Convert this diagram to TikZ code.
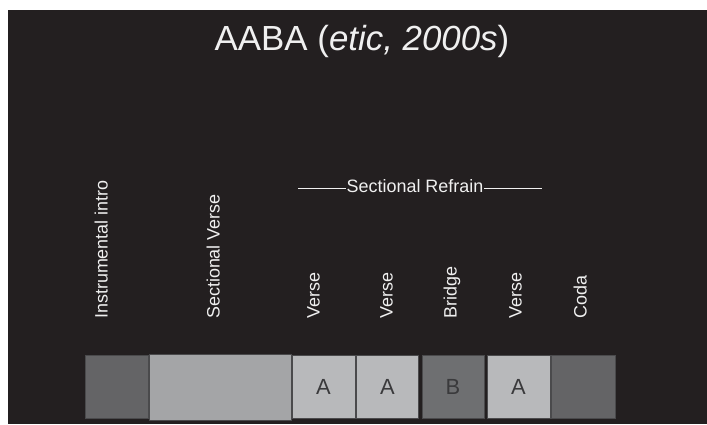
\documentclass[tikz,border=0pt]{standalone}
\usepackage{xcolor}
\usepackage{fontspec}
\setmainfont{Liberation Sans}
\usepackage{tikz}
\usetikzlibrary{positioning}

\definecolor{bgdark}{HTML}{231F20}
\definecolor{introgray}{HTML}{646466}
\definecolor{versegray}{HTML}{A4A5A7}
\definecolor{agray}{HTML}{B8B9BB}
\definecolor{bgray}{HTML}{6E6F71}
\definecolor{edgegray}{HTML}{4A4A4C}
\definecolor{lettergray}{HTML}{3A3A3C}

\begin{document}
\begin{tikzpicture}[
    x=1bp, y=-1bp,
    every node/.style={text=white!94!black},
    sectbox/.style={draw=edgegray, line width=0.8bp, minimum height=63.5bp,
        inner sep=0pt, text=lettergray, font=\fontsize{22}{24}\selectfont},
    vlabel/.style={rotate=90, anchor=west, inner sep=0pt,
        text height=0.716em, text depth=0pt, font=\fontsize{18}{20}\selectfont},
    rule/.style={draw=white!94!black, line width=1.1bp}
]
\useasboundingbox (0,0) rectangle (707,424);
\fill[white] (0,0) rectangle (707,424);
\fill[bgdark] (8,10) rectangle (707,424);

% Title
\node[anchor=base, font=\fontsize{35}{40}\selectfont] (title) at (362,50)
    {AABA (\textit{etic, 2000s})};

% Boxes
\node[sectbox, fill=introgray, minimum width=63bp] (intro) at (116.5,386.75) {};
\node[sectbox, fill=versegray, minimum width=142bp, minimum height=66bp] (sverse) at (220,387) {};
\node[sectbox, fill=agray, minimum width=63bp] (a1) at (323.5,386.75) {A};
\node[sectbox, fill=agray, minimum width=62bp] (a2) at (387.5,386.75) {A};
\node[sectbox, fill=bgray, minimum width=62bp] (b) at (453,386.75) {B};
\node[sectbox, fill=agray, minimum width=63bp] (a3) at (518.5,386.75) {A};
\node[sectbox, fill=introgray, minimum width=64bp] (coda) at (583,386.75) {};

% Labels
\node[vlabel] (lintro) at (104,319) {Instrumental intro};
\node[vlabel] (lsverse) at (216,319) {Sectional Verse};
\node[vlabel] (la1) at (316,319) {Verse};
\node[vlabel] (la2) at (389,319) {Verse};
\node[vlabel] (lb) at (453,319) {Bridge};
\node[vlabel] (la3) at (518,319) {Verse};
\node[vlabel] (lcoda) at (583,319) {Coda};

% Refrain bracket
\node[inner sep=1bp, text height=0.716em, text depth=0pt,
    font=\fontsize{18}{20}\selectfont] (refrain) at (415,188.5) {Sectional Refrain};
\coordinate (rleft) at (298,188.5);
\coordinate (rright) at (542,188.5);
\draw[rule] (rleft) -- (refrain.west);
\draw[rule] (refrain.east) -- (rright);
\end{tikzpicture}
\end{document}
